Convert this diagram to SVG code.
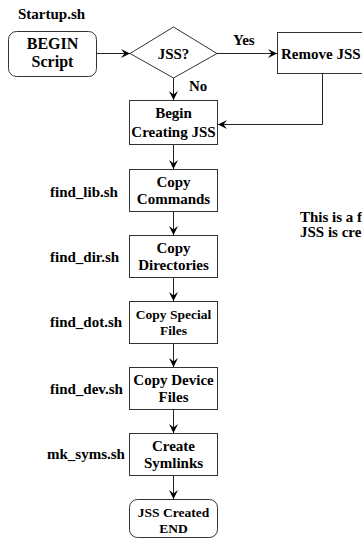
<svg xmlns="http://www.w3.org/2000/svg" width="362" height="540" viewBox="0 0 362 540">
  <style>
    .box { fill: #ffffff; stroke: #333333; stroke-width: 1; }
    .t { font-family: "Liberation Serif", "Times New Roman", serif; font-weight: bold; font-size: 15px; fill: #000000; }
    .c { text-anchor: middle; }
    .sm { font-size: 13.5px; }
    .lg { font-size: 16px; }
    .wire { fill: none; stroke: #222222; stroke-width: 1; marker-end: url(#barb); }
  </style>
  <defs>
    <marker id="barb" markerUnits="userSpaceOnUse" markerWidth="10" markerHeight="9" refX="9" refY="4.5" orient="auto">
      <path d="M0,0 L9,4.5 L0,9 L3.5,4.5 z" fill="#000000"/>
    </marker>
  </defs>

  <rect width="362" height="540" fill="#ffffff"/>

  <!-- connectors -->
  <g id="connectors">
    <line class="wire" x1="97" y1="53.5" x2="130" y2="53.5"/>
    <line class="wire" x1="217" y1="53.5" x2="277" y2="53.5"/>
    <polyline class="wire" points="322.5,74 322.5,124.5 218,124.5"/>
    <line class="wire" x1="173.5" y1="78" x2="173.5" y2="100"/>
    <line class="wire" x1="173.5" y1="145" x2="173.5" y2="169"/>
    <line class="wire" x1="173.5" y1="212" x2="173.5" y2="235"/>
    <line class="wire" x1="173.5" y1="278" x2="173.5" y2="301"/>
    <line class="wire" x1="173.5" y1="344" x2="173.5" y2="367"/>
    <line class="wire" x1="173.5" y1="410" x2="173.5" y2="433"/>
    <line class="wire" x1="173.5" y1="476" x2="173.5" y2="499"/>
    <text class="t" x="233" y="45">Yes</text>
    <text class="t" x="189" y="91">No</text>
  </g>

  <!-- start -->
  <g id="begin">
    <text class="t" x="18" y="19">Startup.sh</text>
    <rect class="box" x="8.5" y="31.5" width="88" height="45" rx="8" ry="8"/>
    <text class="t c lg" x="52.5" y="49">BEGIN</text>
    <text class="t c lg" x="52.5" y="67">Script</text>
  </g>

  <!-- decision -->
  <g id="jss-check">
    <polygon class="box" points="130,53.5 173.5,27 217,53.5 173.5,78"/>
    <text class="t c" x="173.5" y="58.5">JSS?</text>
  </g>

  <g id="remove-jss">
    <rect class="box" x="277.5" y="32.5" width="100" height="41"/>
    <text class="t" x="281" y="58.5">Remove JSS</text>
  </g>

  <g id="begin-creating">
    <rect class="box" x="129.5" y="100.5" width="88" height="44"/>
    <text class="t c" x="173.5" y="118">Begin</text>
    <text class="t c" x="173.5" y="137">Creating JSS</text>
  </g>

  <g id="copy-commands">
    <text class="t" x="50" y="197">find_lib.sh</text>
    <rect class="box" x="129.5" y="169.5" width="88" height="42"/>
    <text class="t c" x="173.5" y="187">Copy</text>
    <text class="t c" x="173.5" y="204">Commands</text>
  </g>

  <g id="copy-directories">
    <text class="t" x="50" y="262">find_dir.sh</text>
    <rect class="box" x="129.5" y="235.5" width="88" height="42"/>
    <text class="t c" x="173.5" y="253">Copy</text>
    <text class="t c" x="173.5" y="270">Directories</text>
  </g>

  <g id="copy-special">
    <text class="t" x="50" y="327">find_dot.sh</text>
    <rect class="box" x="129.5" y="301.5" width="88" height="42"/>
    <text class="t c sm" x="173.5" y="319">Copy Special</text>
    <text class="t c sm" x="173.5" y="335">Files</text>
  </g>

  <g id="copy-device">
    <text class="t" x="50" y="394">find_dev.sh</text>
    <rect class="box" x="129.5" y="367.5" width="88" height="42"/>
    <text class="t c" x="173.5" y="385">Copy Device</text>
    <text class="t c" x="173.5" y="402">Files</text>
  </g>

  <g id="create-symlinks">
    <text class="t" x="47" y="459">mk_syms.sh</text>
    <rect class="box" x="129.5" y="433.5" width="88" height="42"/>
    <text class="t c" x="173.5" y="451">Create</text>
    <text class="t c" x="173.5" y="468">Symlinks</text>
  </g>

  <g id="end">
    <rect class="box" x="129.5" y="499.5" width="88" height="38" rx="8" ry="8"/>
    <text class="t c sm" x="173.5" y="517">JSS Created</text>
    <text class="t c sm" x="173.5" y="533">END</text>
  </g>

  <!-- side note -->
  <g id="note">
    <text class="t" x="300" y="222">This is a f</text>
    <text class="t" x="300" y="237">JSS is cre</text>
  </g>
</svg>
